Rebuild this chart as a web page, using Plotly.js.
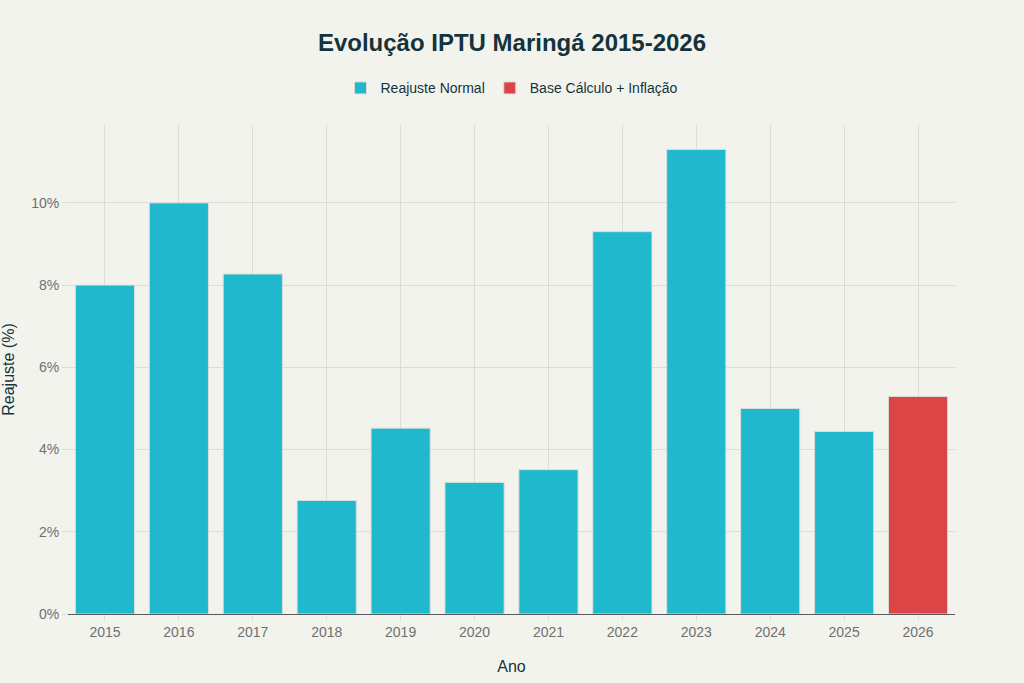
<!DOCTYPE html>
<html>
<head>
<meta charset="utf-8">
<script src="https://cdn.plot.ly/plotly-3.0.1.min.js"></script>
<style>html,body{margin:0;padding:0;background:#F3F3EE;}#chart{width:1024px;height:683px;}</style>
</head>
<body>
<div id="chart"></div>
<script>
const yearsNormal = ['2015','2016','2017','2018','2019','2020','2021','2022','2023','2024','2025'];
const valuesNormal = [8.0, 10.0, 8.27, 2.76, 4.52, 3.2, 3.51, 9.3, 11.3, 5.0, 4.44];
const yearsBase = ['2026'];
const valuesBase = [5.29];
const allYears = yearsNormal.concat(yearsBase);
const yTickVals = [0,2,4,6,8,10];
const yTickText = ['0%','2%','4%','6%','8%','10%'];

const traces = [
  {type:'bar', name:'Reajuste Normal', x:yearsNormal, y:valuesNormal,
   marker:{color:'#1FB8CD', line:{color:'#D9DDD8', width:1}}},
  {type:'bar', name:'Base Cálculo + Inflação', x:yearsBase, y:valuesBase,
   marker:{color:'#DB4545', line:{color:'#D9DDD8', width:1}}}
];

const layout = {
  width:1024, height:683,
  paper_bgcolor:'#F3F3EE', plot_bgcolor:'#F3F3EE',
  font:{family:'"Liberation Sans", Arial, sans-serif', color:'#13343B', size:14},
  title:{text:'<b>Evolução IPTU Maringá 2015-2026</b>', x:0.5, xanchor:'center', y:0.937, yanchor:'middle',
         font:{size:24, color:'#13343B'}},
  margin:{l:68, r:69, t:125, b:69},
  barmode:'overlay',
  bargap:0.2,
  showlegend:true,
  legend:{orientation:'h', x:0.5, xanchor:'center', y:1.075, yanchor:'middle', font:{size:14, color:'#13343B'}},
  xaxis:{type:'category', categoryorder:'array', categoryarray:allYears,
         title:{text:'Ano', font:{size:16, color:'#13343B'}, standoff:22},
         showgrid:true, gridcolor:'#DCDCD6', showline:true, linecolor:'#5A5A5A', linewidth:1,
         ticks:'outside', ticklen:5, tickcolor:'#DCDCD6', tickfont:{size:14, color:'#707070'}},
  yaxis:{title:{text:'Reajuste (%)', font:{size:16, color:'#13343B'}, standoff:12},
         tickvals:yTickVals, ticktext:yTickText,
         showgrid:true, gridcolor:'#DCDCD6', zeroline:false,
         ticks:'outside', ticklen:5, tickcolor:'#DCDCD6', tickfont:{size:14, color:'#707070'}}
};

Plotly.newPlot('chart', traces, layout, {displayModeBar:false, responsive:false});
</script>
</body>
</html>
